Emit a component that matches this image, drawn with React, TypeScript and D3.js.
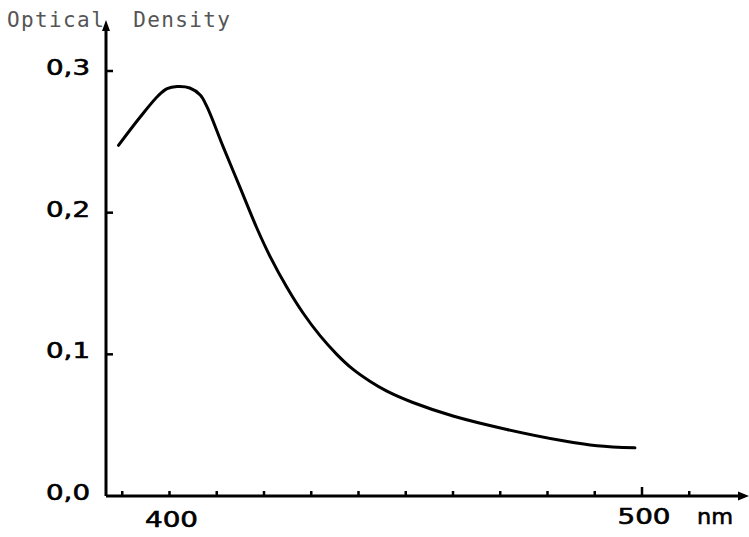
import React from "react";
import * as d3 from "d3";

const wavelengths = [389.2, 393.8, 397.6, 399.5, 401.6, 404.3, 406.5, 407.9, 411.3, 414.9, 418.5, 421.3, 424.9, 428.3, 431.9, 435.4, 438.8, 442.4, 446.0, 451.5, 460.0, 471.4, 483.3, 490.5, 498.5];
const density = [0.2475, 0.2675, 0.2825, 0.2875, 0.289, 0.288, 0.283, 0.275, 0.247, 0.218, 0.189, 0.169, 0.147, 0.129, 0.113, 0.1, 0.0895, 0.081, 0.074, 0.066, 0.0565, 0.047, 0.039, 0.0355, 0.034];
const yTicks = [0.0, 0.1, 0.2, 0.3];
const yTickLabels = ["0,0", "0,1", "0,2", "0,3"];
const xMinorTicks = [390, 400, 410, 420, 430, 440, 450, 460, 470, 480, 490, 500, 510];
const xLabels = [400, 500];
const yTitle = "Optical  Density";
const xUnit = "nm";

export default function App() {
  const W = 749, H = 537;
  const x = d3.scaleLinear().domain([400, 500]).range([169.5, 642]);
  const y = d3.scaleLinear().domain([0, 0.3]).range([496, 71]);
  const axX = 106;
  const axY = y(0);
  const pts = wavelengths.map((w, i) => [x(w), y(density[i])] as [number, number]);
  const line = d3.line().curve(d3.curveCatmullRom.alpha(0.5));
  const d = line(pts) || "";
  const labelFont = "'DejaVu Sans', sans-serif";
  const medium = { stroke: "#000", strokeWidth: 0.6 };
  return (
    <svg width={W} height={H} style={{ position: "absolute", left: 0, top: 0, background: "#fff" }}>
      <rect x={0} y={0} width={W} height={H} fill="#fff" />
      {/* y title */}
      <text x={7} y={27} fontFamily="'DejaVu Sans Mono', monospace" fontSize={21} fill="#555" textLength={223} lengthAdjust="spacing" style={{ whiteSpace: "pre" }}>{yTitle}</text>
      {/* axes */}
      <line x1={axX} y1={axY} x2={axX} y2={28} stroke="#000" strokeWidth={3} />
      <path d={`M${axX},20 L${axX - 4},31 L${axX + 4},31 Z`} fill="#000" />
      <line x1={axX} y1={axY} x2={740} y2={axY} stroke="#000" strokeWidth={3} />
      <path d={`M749,${axY} L738,${axY - 4.5} L738,${axY + 4.5} Z`} fill="#000" />
      {/* y ticks */}
      {yTicks.map((t, i) => (
        <g key={"y" + i}>
          {t > 0 && <line x1={axX} x2={axX + 7} y1={y(t)} y2={y(t)} stroke="#000" strokeWidth={2.5} />}
          <text x={90} y={y(t) + 4} textAnchor="end" fontFamily={labelFont} fontSize={21} fill="#000" {...medium} textLength={44} lengthAdjust="spacingAndGlyphs">{yTickLabels[i]}</text>
        </g>
      ))}
      {/* x ticks */}
      {xMinorTicks.map((t) => (
        <line key={"x" + t} x1={x(t)} x2={x(t)} y1={axY} y2={axY - (t === 500 ? 9 : 5)} stroke="#000" strokeWidth={2.5} />
      ))}
      {xLabels.map((t) => (
        <text key={"xl" + t} x={x(t) + 2} y={t === 400 ? 527 : 524} textAnchor="middle" fontFamily={labelFont} fontSize={21} fill="#000" {...medium} textLength={53} lengthAdjust="spacingAndGlyphs">{t}</text>
      ))}
      <text x={697} y={524} fontFamily={labelFont} fontSize={22} fill="#000" {...medium} textLength={36} lengthAdjust="spacingAndGlyphs">{xUnit}</text>
      {/* curve */}
      <path d={d} fill="none" stroke="#000" strokeWidth={3} strokeLinecap="round" strokeLinejoin="round" />
    </svg>
  );
}
